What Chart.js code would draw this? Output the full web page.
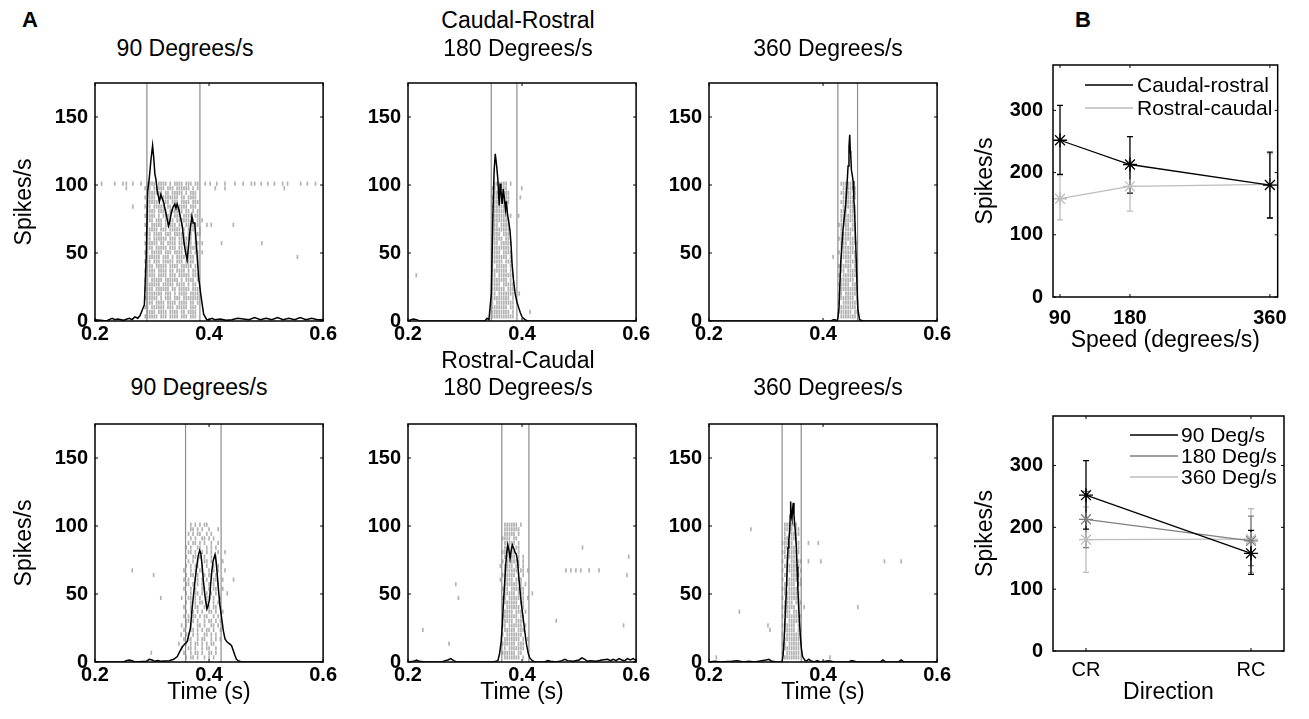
<!DOCTYPE html>
<html><head><meta charset="utf-8">
<script src="https://cdn.jsdelivr.net/npm/chart.js@4.4.1/dist/chart.umd.min.js"></script>
<style>
html,body{margin:0;padding:0;background:#fff;}
body{width:1309px;height:719px;position:relative;overflow:hidden;font-family:'Liberation Sans',Arial,sans-serif;}
canvas{position:absolute;}
.t{position:absolute;white-space:nowrap;line-height:1;color:#000;}
</style></head><body>
<script>
// ================= DATA =================
const xTicksA = [0.2, 0.4, 0.6];
const yTicksA = [0, 50, 100, 150];
const yRangeA = [0, 175];
const trialRange = [0, 52];

// PSTH curves: [time (s), rate (spikes/s)]
const cr90Psth = [[0.200,1],[0.210,0.5],[0.220,0],[0.230,2],[0.235,1],[0.240,1.5],[0.250,0.5],[0.260,2],[0.265,1],[0.270,3],[0.275,2],[0.279,4],[0.2866,12],[0.290,50],[0.2923,95],[0.2952,105],[0.298,118],[0.301,129],[0.303,120],[0.305,108],[0.307,104],[0.309,96],[0.311,92],[0.313,88],[0.3155,93],[0.318,90],[0.3205,87],[0.323,82],[0.326,76],[0.329,70],[0.331,73],[0.334,80],[0.337,84],[0.340,86],[0.342,83],[0.344,86],[0.347,82],[0.350,76],[0.353,70],[0.356,58],[0.359,50],[0.3616,45],[0.364,55],[0.367,68],[0.370,77],[0.372,72],[0.3749,72],[0.378,55],[0.3818,32],[0.386,18],[0.3905,5],[0.396,1],[0.400,1],[0.405,2],[0.410,1],[0.420,1.5],[0.430,0.5],[0.440,1],[0.450,2],[0.460,1.5],[0.470,1],[0.480,2.5],[0.490,1],[0.500,2],[0.510,1],[0.520,2.5],[0.530,1],[0.540,2],[0.550,1],[0.560,2.5],[0.570,1],[0.580,2],[0.590,1],[0.600,1]];
const cr180Psth = [[0.200,0],[0.205,1],[0.210,1.5],[0.215,1],[0.220,0],[0.335,0],[0.3386,2],[0.342,1],[0.3461,20],[0.349,80],[0.351,110],[0.353,123],[0.3555,114],[0.3576,104],[0.359,92],[0.360,85],[0.3616,101],[0.363,96],[0.365,86],[0.367,97],[0.369,90],[0.371,82],[0.3725,88],[0.3744,79],[0.377,72],[0.379,66],[0.381,54],[0.3825,42],[0.385,30],[0.388,20],[0.391,14],[0.394,10],[0.397,6],[0.400,3],[0.405,1],[0.410,0],[0.600,0]];
const cr360Psth = [[0.200,0],[0.414,0],[0.418,1],[0.421,1],[0.424,0],[0.426,2],[0.428,10],[0.431,43],[0.433,55],[0.435,67],[0.437,75],[0.4398,86],[0.442,100],[0.4439,114],[0.4455,128],[0.4468,137],[0.4478,125],[0.4485,123],[0.4497,111],[0.451,108],[0.4526,103],[0.454,90],[0.4555,78],[0.457,60],[0.4584,43],[0.460,20],[0.4613,8],[0.464,1],[0.470,0],[0.600,0]];
const rc90Psth = [[0.200,0],[0.250,0],[0.255,1],[0.260,1.5],[0.265,1],[0.270,0],[0.290,0.5],[0.295,2],[0.300,1.5],[0.305,0.5],[0.310,1],[0.315,0.5],[0.330,1],[0.338,2],[0.3443,4],[0.349,8],[0.353,11],[0.357,13],[0.3616,15],[0.3674,25],[0.370,38],[0.3732,51],[0.376,62],[0.379,72],[0.381,78],[0.3836,82],[0.3855,80],[0.3876,72],[0.390,60],[0.3922,51],[0.394,45],[0.3963,39],[0.398,41],[0.4009,46],[0.403,58],[0.4049,67],[0.407,74],[0.409,77],[0.4105,79],[0.4124,74],[0.4145,64],[0.4165,53],[0.419,42],[0.4222,32],[0.425,23],[0.428,17],[0.431,15],[0.4338,14],[0.437,13],[0.4395,12],[0.442,9],[0.4453,5],[0.448,2],[0.451,1],[0.457,0],[0.600,0]];
const rc180Psth = [[0.200,0],[0.210,0.5],[0.215,1.5],[0.220,0.5],[0.230,0],[0.260,0],[0.265,1],[0.270,1.5],[0.275,2.5],[0.280,1],[0.285,0],[0.350,0],[0.3576,1],[0.3605,6],[0.3634,15],[0.3655,28],[0.3674,44],[0.3695,58],[0.3715,72],[0.373,80],[0.375,86],[0.377,82],[0.379,76],[0.381,82],[0.383,86],[0.385,84],[0.3876,81],[0.390,79],[0.3922,74],[0.394,64],[0.3963,53],[0.399,42],[0.402,32],[0.405,22],[0.4078,13],[0.411,6],[0.4136,3],[0.418,1],[0.422,0],[0.440,0],[0.445,1],[0.450,0.5],[0.460,0],[0.470,1],[0.475,2],[0.480,1],[0.490,0.5],[0.500,1.5],[0.505,3],[0.510,2],[0.515,0.5],[0.520,1],[0.530,0.5],[0.540,1.5],[0.550,2],[0.555,1],[0.560,2],[0.565,1],[0.570,2.5],[0.575,1.5],[0.580,1],[0.585,2.5],[0.590,1.5],[0.595,2.5],[0.600,1]];
const rc360Psth = [[0.200,0],[0.210,0.5],[0.220,0],[0.240,0.5],[0.250,1],[0.260,0],[0.270,0.5],[0.280,0],[0.300,1.5],[0.305,2],[0.310,0.5],[0.320,0],[0.328,0],[0.330,5],[0.3322,20],[0.334,38],[0.3357,53],[0.337,68],[0.3386,84],[0.340,90],[0.3415,96],[0.3425,108],[0.3432,118],[0.344,108],[0.3455,105],[0.3465,112],[0.3478,117],[0.349,108],[0.350,103],[0.3515,95],[0.353,86],[0.3545,70],[0.3559,53],[0.358,35],[0.360,20],[0.362,10],[0.364,4],[0.3686,1],[0.372,1],[0.375,2],[0.378,1],[0.385,0],[0.390,1],[0.395,0],[0.410,1],[0.420,0],[0.445,0],[0.450,1],[0.460,0],[0.500,0],[0.505,1.5],[0.510,0],[0.532,0],[0.537,1.5],[0.542,0],[0.600,0]];

// stimulus on/off markers (s)
const cr90Stim = [0.291, 0.384];
const cr180Stim = [0.346, 0.391];
const cr360Stim = [0.426, 0.4605];
const rc90Stim = [0.3588, 0.4211];
const rc180Stim = [0.3645, 0.412];
const rc360Stim = [0.3282, 0.3617];

// raster: one string per trial (trial 1 first), 'x' = spike in a 4 ms bin from rasterStart
const rasterBin = 0.004;
const cr90RasterStart = 0.284;
const cr90Raster = [
".xxxxxx.xxx.xxxx.xxx.xxx...","..xxxx.xxxx.xxxx.xx.xxxx...",".xx.xxxxxx.xxx.xxxxx.xxx...","..xxx.xxxx.xxxx.xxxx.xx.x..",
".xxxxxx.x.xxx.xxx.xxxxxxx..","..xxxxxxx.xxx.x.xxxx.xxxx..",".xxxx.xxxxxx.xx.xxxxx.xxx..","..xxxxxx.xxxxx.xxxx.x.xx...",
".xx.xxxxx.xxxxxx.x.xxxx.x..","..xxxx.xxxx.xxx.xxxxx.xxx..",".xxxxx.xxxx.xx.xxxx.x.xx...","..xxx.xxxxx.xxxx.xxxxx.xx..",
".xxx.xxx.xxxxx.xxx.xxxx.x..","..xxxxxx.xxx.x.xxxx.xxx.x..",".xx.xxxxx.xxx.xxxx.xxx.xx.x","..xxx.xxxxx.xxx.xx.xxxxx...",
".xxxxxx.xx.xxxx.xxxx.x.xx.x","..xx.xxxxxx.xxx.xxxxxx.x...",".xxx.xxxx.xxx.xxxxx.xx.xxx.","..xxxxx.xxx.xxxxx.x.xxxx.x.",
".xx.xxxxx.xxxxx.xx.xxxxxx..","..xxx.xxx.xxxx.xxxxxx.x.x.x",".xxxxx.x.xxxx.xxx.xxxx.xx..","..xxxx.xxxx.xxxxxx.xx.x.x..",
".xxx.xxxxx.xx.xxxxxx.xxx...","..xxxxxx.xxx.xxx.xxxx.xxx..",".x.xxx.xxxxxxxxx.xx.xxxx...","..xxxxxxx.xx.xxxxx.x.xxx...",
".xxx.xxxxx.xxx.xxxxxx.x.x..","..xxxx.xxxx.x.xxxx.xxx.xx.."];
const cr90Extra = [[0.2116,30],[0.2346,30],[0.249,30],[0.2549,30],[0.2664,30],[0.2808,30],[0.3934,30],[0.402,30],[0.4136,30],[0.428,30],[0.4454,30],[0.4598,30],[0.4742,30],[0.48,30],[0.4915,30],[0.503,30],[0.5146,30],[0.529,30],[0.5377,30],[0.5608,30],[0.5723,30],[0.5867,30],
[0.2549,29],[0.411,29],[0.428,29],[0.532,29],[0.2664,25],[0.3963,21],[0.4038,21],[0.4426,21],[0.422,17],[0.4925,17],[0.555,14]];

const cr180RasterStart = 0.344;
const cr180Raster = [
".xxxxxxxxxx.",".xxxxxxxx.x.",".xxxxxxx.xx.",".x.xxxxxxxx.",".xxxxxxxx.x.",".xx.xxxxxxx.",".xxxxxx.xxx.",".xxxx.xxxxx.",
".xxxxxxx.x..",".xx.xxxxxxx.",".xxxxxxx.x..",".x.xxxxx.x..",".xxxxx.xxx..",".xxxxxxx.x..",".xxxx.xxxx..",".xxxxxxxx...",
".xxx.xxxxx..",".xxxxx.xx...",".xxxx.xxx...",".xxxxxxxx...",".xxx.xxxx...","..xxxxxxx...",".xxxxxxx.x..","..xxxxxx....",
".xxxxxxx....","..xxxxxxx...",".xxxxxxxx...","..xxxxxxx...",".xx.xxxx....","..xxxxxx.x.."];
const cr180Extra = [[0.2145,10],[0.3995,29],[0.397,27],[0.394,23],[0.395,6],[0.414,2]];

const cr360RasterStart = 0.428;
const cr360Raster = [
".xxxxxxx.","xxxxxx.xx",".xxxxxxx.","x.xxxxxxx",".xxxxxx.x","xx.xxxxx.",".xxxxxxxx","xxxxx.xx.",
".xxxxxx.x","x.xxxxxx.",".xx.xxxx.","xxxxxx.x.",".x.xxxxxx",".xxxxx.x.","x.xxxxxx.",".xxxxxx..",
".xxx.xxxx","xxxxxxxx.",".xxxxx.x.",".x.xxxxx.","xxxxx.xx.",".xxxxxx..",".xxxxxxx.",".xxx.xxx.",
"..xxxxxx.",".xxxxxx..","..xxxxxx.",".xxxxx.x.","..xxxxxx.",".xxxxx..."];
const cr360Extra = [[0.4177,14]];

const rc90RasterStart = 0.352;
const rc90Raster = [
"..x.xx.x..x.x.x......",".x..x.xx.x..xx.x.....","x..xx.x..x.xx..x.....","..x.x.xx.x.x.xx......",
".x.xx..x.xx..x.x.x...","..xx.x.x..xx.x.x.....",".x..xx.x.x.xx.x..x...","x.x.x..xx.x..xx.x....",
"..xx.x.x..x.xx.x.x...",".x.x.xx.x.xx..x.x....","..x.xx.x.x..xx.x..x..",".x..x.xx..x.x.xx.x...",
"..x.x.x.xx.x..x.x....","x..xx.x.x..xx.x..x...","..x.x.xx.x.x.x.x.....",".x..x.x..xx.x.xx..x..",
"..xx.x.x.x..x.x.x....",".x.x..xx.x.x..xx..x..","..x.xx.x..x.xx.x.....",".x..x.x.xx..x.x.x..x.",
"..x.x.xx.x.x..x.x....","...x.x.x..xx.x.x..x..","..x..xx.x.x..x.x.....","...xx.x..x.x.x..x....",
"..x.x..xx..x.x.x.....","...x.xx.x.x..x..x....","....x.x..xx.x.x......","...x.x.xx..x.x.......",
"....xx.x.x..x...x....","....x.x.x.xx........."];
const rc90Extra = [[0.2653,20],[0.3027,19],[0.3154,14],[0.2987,2],[0.428,24],[0.443,18],[0.432,15],[0.347,4],[0.351,6]];

const rc180RasterStart = 0.362;
const rc180Raster = [
"..xxxxxxx.x..",".xxxxxx.xx...","..x.xxxxxxx..",".xxxxxx.xxx..","..xxxxxxx.x.x",".x.xxxxxxx...","..xxxxx.xxx..",".xx.xxxxxx.x.",
"..xxxx.xxxx..",".xxxxxxx.xx..","..xxxx.xxx.x.",".x.xxxxxx.x..","..xxxxxx.xx..",".xx.xxxxx.x.x","..xxxxx.xxx..",".xxx.xxxxxx..",
"..xxxxxx.x.x.","x.xxxx.xxx...",".xxxxxx.x.x..","..xxxxxx.xx.x","x.xxxx.xx.x..",".x.xxxxxx.x..","..xxxxx.x.x..",".xxxxxx.x....",
"..xxxx.xx....","..xxxxx.x....",".xxxx.xx.....","..xxxxx.x....","..xxxxxxx....","..xxxxxx.x..."];
const rc180Extra = [[0.226,7],[0.272,4],[0.2838,17],[0.2884,14],[0.418,15],[0.46,9],[0.506,25],[0.477,20],[0.4857,20],[0.4944,20],[0.503,20],[0.5176,20],[0.535,20],[0.587,23],[0.584,19],[0.578,8]];

const rc360RasterStart = 0.329;
const rc360Raster = [
".xxxxxxx.","x.xxxxxx.",".xxxxxxx.","xx.xxxxxx",".xxxxxxx.","x.xxxxxx.",".xxxxx.xx","xxxxxx.x.",
".x.xxxxx.","x.xxxxxxx",".xxx.xxx.","xxxxxx.x.",".xxxx.xxx","x.xxxxxx.",".xxxxxxx.","xx.xxxx..",
".xxxxx.xx","x.xxxxx.x",".xx.xxxx.","x.xxxxx.x",".xxxxxxx.","x.x.xxxxx",".xxxxxx..","xx.xxxxx.",
".xxxxx.x.","xxxxx.xx.",".xxxxxx..",".x.xxxxx.",".xxxx.xx.",".xxxxxx.."];
const rc360Extra = [[0.2734,29],[0.2532,11],[0.3034,8],[0.3069,7],[0.2128,1],[0.3744,26],[0.3917,26],[0.3744,22],[0.3963,22],[0.3669,12],[0.412,1],[0.461,12],[0.5077,22],[0.537,22]];

// Panel B
const speeds = [90, 180, 360];
const speedTicks = [90, 180, 360];
const crMean = [252, 213, 180];
const crLow  = [197, 167, 127];
const crHigh = [308, 258, 233];
const rcMean = [158, 178, 181];
const rcLow  = [124, 138, 127];
const rcHigh = [195, 218, 230];
const dirTicks = [1, 2];
const dirLabels = ['CR', 'RC'];
const yTicksB = [0, 100, 200, 300];

// ================= RENDER =================
const FONT = "'Liberation Sans', Arial, sans-serif";
Chart.defaults.font.family = FONT;
Chart.defaults.color = '#000';
Chart.defaults.animation = false;

function addText(txt, x, baseline, size, opts) {
  opts = opts || {};
  const d = document.createElement('div');
  d.className = 't';
  d.textContent = txt;
  d.style.fontSize = size + 'px';
  d.style.fontWeight = opts.bold ? 'bold' : 'normal';
  d.style.top = (baseline - 0.8465 * size) + 'px';
  d.style.left = x + 'px';
  if (opts.center !== false) d.style.transform = 'translateX(-50%)';
  document.body.appendChild(d);
}

const boxPlugin = {
  id: 'box',
  afterDatasetsDraw(chart) {
    const {ctx, chartArea: a, scales} = chart;
    ctx.save();
    ctx.strokeStyle = '#000';
    ctx.lineWidth = 1.5;
    ctx.strokeRect(a.left, a.top, a.right - a.left, a.bottom - a.top);
    ctx.lineWidth = 1;
    const tl = 3;
    ctx.beginPath();
    scales.y.ticks.forEach(t => {
      const py = scales.y.getPixelForValue(t.value);
      ctx.moveTo(a.left, py); ctx.lineTo(a.left + tl, py);
      ctx.moveTo(a.right, py); ctx.lineTo(a.right - tl, py);
    });
    scales.x.ticks.forEach(t => {
      const px = scales.x.getPixelForValue(t.value);
      ctx.moveTo(px, a.bottom); ctx.lineTo(px, a.bottom - tl);
      ctx.moveTo(px, a.top); ctx.lineTo(px, a.top + tl);
    });
    ctx.stroke();
    ctx.restore();
  }
};

const errPlugin = {
  id: 'errbars',
  beforeDatasetsDraw(chart) {
    const {ctx, scales} = chart;
    ctx.save();
    ctx.lineWidth = 1.3;
    for (let i = chart.data.datasets.length - 1; i >= 0; i--) {
      const ds = chart.data.datasets[i];
      if (!ds.errLow) continue;
      ctx.strokeStyle = ds.borderColor;
      ds.data.forEach((d, j) => {
        const px = scales.x.getPixelForValue(d.x);
        const y1 = scales.y.getPixelForValue(ds.errLow[j]);
        const y2 = scales.y.getPixelForValue(ds.errHigh[j]);
        ctx.beginPath();
        ctx.moveTo(px, y1); ctx.lineTo(px, y2);
        ctx.moveTo(px - 3, y1); ctx.lineTo(px + 3, y1);
        ctx.moveTo(px - 3, y2); ctx.lineTo(px + 3, y2);
        ctx.stroke();
      });
    }
    ctx.restore();
  }
};

const inLegend = {
  id: 'inlegend',
  afterDatasetsDraw(chart, args, o) {
    const {ctx, chartArea: a} = chart;
    ctx.save();
    ctx.font = o.size + 'px ' + FONT;
    ctx.textBaseline = 'middle';
    ctx.textAlign = 'left';
    chart.data.datasets.forEach((ds, i) => {
      const y = a.top + o.y0 + i * o.dy;
      ctx.strokeStyle = ds.borderColor;
      ctx.lineWidth = 1.6;
      ctx.beginPath();
      ctx.moveTo(a.left + o.lx0, y); ctx.lineTo(a.left + o.lx1, y);
      ctx.stroke();
      ctx.fillStyle = '#000';
      ctx.fillText(ds.label, a.left + o.tx, y + 1);
    });
    ctx.restore();
  }
};

function makeCanvas(left, top, w, h) {
  const c = document.createElement('canvas');
  c.width = w; c.height = h;
  c.style.left = left + 'px'; c.style.top = top + 'px';
  c.style.width = w + 'px'; c.style.height = h + 'px';
  document.body.appendChild(c);
  return c;
}

function psthPanel(p) {
  const YW = 85, PW = 231, PH = 247, PT = 10, PR = 12;
  const Hx = p.xTitle ? 44 : 30;
  const c = makeCanvas(p.left - YW, p.top - PT, YW + PW + PR, PT + PH + Hx);
  const raster = [];
  p.raster.forEach((row, r) => {
    for (let i = 0; i < row.length; i++) if (row[i] === 'x') raster.push({x: p.rStart + i * rasterBin, y: r + 1});
  });
  p.extra.forEach(e => raster.push({x: e[0], y: e[1]}));
  const stimDs = p.stim.map(t => ({
    data: [{x: t, y: yRangeA[0]}, {x: t, y: yRangeA[1]}],
    showLine: true, borderColor: '#8c8c8c', borderWidth: 1.2, pointRadius: 0, order: 1
  }));
  new Chart(c, {
    type: 'scatter',
    data: {datasets: [
      {data: p.psth.map(d => ({x: d[0], y: d[1]})), showLine: true, borderColor: '#000', borderWidth: 1.5, pointRadius: 0, order: 0},
      ...stimDs,
      {data: raster, yAxisID: 'yT', pointStyle: 'line', pointRotation: 90, pointRadius: 2.1,
       pointBorderColor: '#b3b3b3', borderColor: '#b3b3b3', pointBorderWidth: 1.7, order: 2}
    ]},
    options: {
      responsive: false, devicePixelRatio: 1, events: [],
      layout: {padding: {left: 0, top: PT, right: PR, bottom: 0}},
      plugins: {legend: {display: false}, tooltip: {enabled: false}},
      scales: {
        x: {type: 'linear', min: xTicksA[0], max: xTicksA[xTicksA.length - 1],
            grid: {display: false, drawTicks: false}, border: {display: false},
            afterBuildTicks: s => { s.ticks = xTicksA.map(v => ({value: v})); },
            ticks: {callback: v => v.toFixed(1), font: {size: 20, weight: 'bold'}, padding: 1, maxRotation: 0, autoSkip: false},
            title: {display: !!p.xTitle, text: p.xTitle || '', font: {size: 23}, padding: {top: 0, bottom: 0}},
            afterFit: s => { s.height = Hx; }},
        y: {type: 'linear', min: yRangeA[0], max: yRangeA[1],
            grid: {display: false, drawTicks: false}, border: {display: false},
            afterBuildTicks: s => { s.ticks = yTicksA.map(v => ({value: v})); },
            ticks: {callback: v => String(v), font: {size: 20, weight: 'bold'}, padding: 7, autoSkip: false},
            title: {display: !!p.yTitle, text: p.yTitle || '', font: {size: 23}, padding: {top: 1, bottom: 0}},
            afterFit: s => { s.width = YW; }},
        yT: {type: 'linear', min: trialRange[0], max: trialRange[1], display: false}
      }
    },
    plugins: [boxPlugin]
  });
}

psthPanel({left: 95, top: 74, psth: cr90Psth, stim: cr90Stim, raster: cr90Raster, rStart: cr90RasterStart, extra: cr90Extra, yTitle: 'Spikes/s'});
psthPanel({left: 408, top: 74, psth: cr180Psth, stim: cr180Stim, raster: cr180Raster, rStart: cr180RasterStart, extra: cr180Extra});
psthPanel({left: 709, top: 74, psth: cr360Psth, stim: cr360Stim, raster: cr360Raster, rStart: cr360RasterStart, extra: cr360Extra});
psthPanel({left: 95, top: 415, psth: rc90Psth, stim: rc90Stim, raster: rc90Raster, rStart: rc90RasterStart, extra: rc90Extra, yTitle: 'Spikes/s', xTitle: 'Time (s)'});
psthPanel({left: 408, top: 415, psth: rc180Psth, stim: rc180Stim, raster: rc180Raster, rStart: rc180RasterStart, extra: rc180Extra, xTitle: 'Time (s)'});
psthPanel({left: 709, top: 415, psth: rc360Psth, stim: rc360Stim, raster: rc360Raster, rStart: rc360RasterStart, extra: rc360Extra, xTitle: 'Time (s)'});

function bPanel(q) {
  const YW = 82, PW = 231, PT = 10, PR = 12;
  const c = makeCanvas(q.left - YW, q.top - PT, YW + PW + PR, PT + q.ph + q.hx);
  new Chart(c, {
    type: 'scatter',
    data: {datasets: q.datasets.map(d => Object.assign({
      showLine: true, borderWidth: 1.3, pointStyle: 'star', pointRadius: 7, pointBorderWidth: 1.3,
      pointBorderColor: d.borderColor, backgroundColor: d.borderColor
    }, d))},
    options: {
      responsive: false, devicePixelRatio: 1, events: [],
      layout: {padding: {left: 0, top: PT, right: PR, bottom: 0}},
      plugins: {legend: {display: false}, tooltip: {enabled: false}, inlegend: q.legend},
      scales: {
        x: {type: 'linear', min: q.xMin, max: q.xMax,
            grid: {display: false, drawTicks: false}, border: {display: false},
            afterBuildTicks: s => { s.ticks = q.xTicks.map(v => ({value: v})); },
            ticks: {callback: q.xLabel, font: {size: 20, weight: q.xBold ? 'bold' : 'normal'}, padding: q.xPad, maxRotation: 0, autoSkip: false},
            title: {display: true, text: q.xTitle, font: {size: 23}, padding: {top: 0, bottom: 0}},
            afterFit: s => { s.height = q.hx; }},
        y: {type: 'linear', min: 0, max: q.yMax,
            grid: {display: false, drawTicks: false}, border: {display: false},
            afterBuildTicks: s => { s.ticks = yTicksB.map(v => ({value: v})); },
            ticks: {callback: v => String(v), font: {size: 20, weight: 'bold'}, padding: 10, autoSkip: false},
            title: {display: true, text: 'Spikes/s', font: {size: 23}, padding: {top: 1, bottom: 0}},
            afterFit: s => { s.width = YW; }}
      }
    },
    plugins: [errPlugin, boxPlugin, inLegend]
  });
}

bPanel({
  left: 1053, top: 53, ph: 244, hx: 57, xMin: 81, xMax: 370, yMax: 373,
  xTicks: speedTicks, xLabel: v => String(v), xBold: true, xPad: 9, xTitle: 'Speed (degrees/s)',
  legend: {size: 21, y0: 20, dy: 23, lx0: 32, lx1: 80, tx: 84},
  datasets: [
    {label: 'Caudal-rostral', borderColor: '#000000', data: speeds.map((s, i) => ({x: s, y: crMean[i]})), errLow: crLow, errHigh: crHigh},
    {label: 'Rostral-caudal', borderColor: '#bdbdbd', data: speeds.map((s, i) => ({x: s, y: rcMean[i]})), errLow: rcLow, errHigh: rcHigh}
  ]
});

const speedColors = ['#000000', '#7f7f7f', '#bdbdbd'];
bPanel({
  left: 1053, top: 404, ph: 247, hx: 55, xMin: 0.8, xMax: 2.2, yMax: 380,
  xTicks: dirTicks, xLabel: v => dirLabels[dirTicks.indexOf(v)], xBold: false, xPad: 7, xTitle: 'Direction',
  legend: {size: 21, y0: 19, dy: 21, lx0: 77, lx1: 125, tx: 128},
  datasets: speeds.map((s, k) => ({
    label: s + ' Deg/s', borderColor: speedColors[k],
    data: dirTicks.map((d, j) => ({x: d, y: [crMean, rcMean][j][k]})),
    errLow: dirTicks.map((d, j) => [crLow, rcLow][j][k]),
    errHigh: dirTicks.map((d, j) => [crHigh, rcHigh][j][k])
  }))
});

// Titles and panel letters
addText('A', 22, 28, 22, {bold: true, center: false});
addText('B', 1075, 28, 22, {bold: true, center: false});
addText('90 Degrees/s', 185, 56, 23);
addText('Caudal-Rostral', 518, 28, 23);
addText('180 Degrees/s', 518, 56, 23);
addText('360 Degrees/s', 828, 56, 23);
addText('Rostral-Caudal', 518, 368, 23);
addText('90 Degrees/s', 199, 395, 23);
addText('180 Degrees/s', 518, 395, 23);
addText('360 Degrees/s', 828, 395, 23);
</script>
</body></html>
